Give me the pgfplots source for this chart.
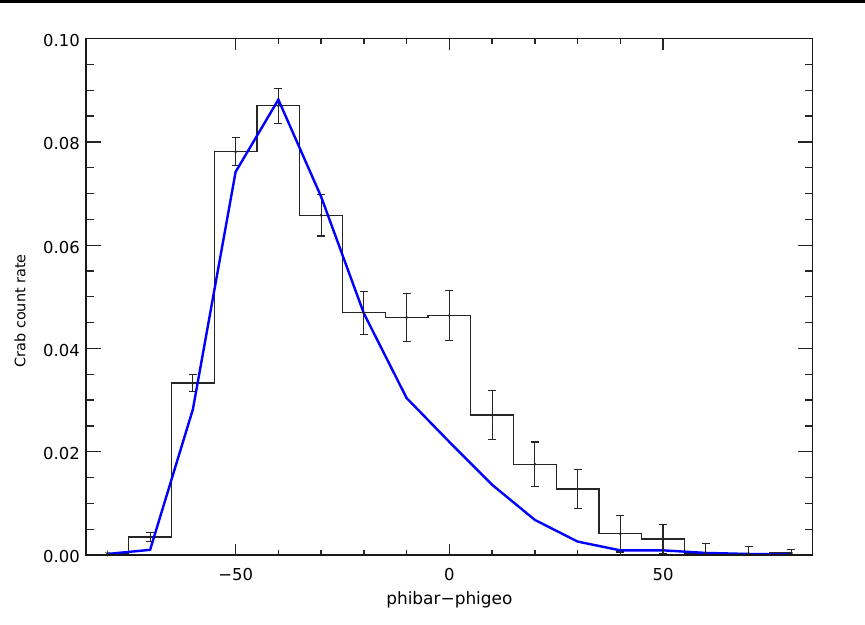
\documentclass[border=0pt]{standalone}
\usepackage{fontspec}
\setmainfont{DejaVu Sans}
\usepackage{pgfplots}
\pgfplotsset{compat=1.18}
\usepackage{pgfplotstable}

\pgfplotstableread{
x y e
-70 0.0035 0.0009
-60 0.0333 0.0017
-50 0.0781 0.0027
-40 0.0870 0.0034
-30 0.0658 0.0040
-20 0.0469 0.0042
-10 0.0460 0.0046
0 0.0464 0.0048
10 0.0271 0.0048
20 0.0176 0.0043
30 0.0128 0.0038
40 0.0041 0.0035
50 0.0031 0.0028
60 0.0004 0.0018
70 0.0003 0.0013
80 0.0004 0.0007
}\errdata

\pgfplotstableread{
x y
-80 0.0003
-70 0.0035
-60 0.0333
-50 0.0781
-40 0.0870
-30 0.0658
-20 0.0469
-10 0.0460
0 0.0464
10 0.0271
20 0.0176
30 0.0128
40 0.0041
50 0.0031
60 0.0004
70 0.0003
80 0.0004
}\histdata

\pgfplotstableread{
x y
-80 0.0002
-70 0.0010
-60 0.0282
-50 0.0742
-40 0.0882
-30 0.0694
-20 0.0468
-10 0.0304
0 0.0219
10 0.0136
20 0.0068
30 0.0026
40 0.0009
50 0.0009
60 0.0004
70 0.0002
80 0.0001
}\modeldata

\begin{document}
\begin{tikzpicture}
\pgfplotsset{
  common/.style={
    scale only axis, width=726.7bp, height=516.3bp,
    at={(0,0)}, anchor=south west,
    xmin=-85, xmax=85, ymin=0, ymax=0.1,
    axis line style={line width=1.4bp, black!90},
    tick align=inside,
    tick style={line width=1.3bp, black!85},
    /pgf/number format/assume math mode=true,
    ticklabel style={font=\fontsize{16.5}{18}\selectfont, inner sep=0pt},
  }
}
% main axis: y ticks and data
\begin{axis}[common,
  xtick=\empty,
  ytick={0,0.02,0.04,0.06,0.08,0.1},
  minor y tick num=3,
  major tick length=15bp, minor tick length=8bp,
  scaled y ticks=false,
  yticklabel style={/pgf/number format/fixed, /pgf/number format/fixed zerofill, /pgf/number format/precision=2},
  yticklabel style={anchor=east, xshift=-6bp, yshift=-2bp},
  ylabel={Crab count rate},
  ylabel style={font=\fontsize{14.5}{16}\selectfont, at={(axis description cs:-0.0908,0.473)}, anchor=center},
]
\addplot[const plot mark mid, black!85, line width=1.2bp] table[x=x, y=y] {\histdata};
\addplot[only marks, black!85, mark=*, mark size=1.2bp,
  error bars/.cd, y dir=both, y explicit,
  error mark=-,
  error bar style={line width=1.2bp, black!85},
  error mark options={rotate=90, line width=1.2bp, mark size=4bp, black!85}]
  table[x=x, y=y, y error=e] {\errdata};
\addplot[only marks, black, mark=asterisk, mark size=3bp] coordinates {(-80,0.0003)};
\addplot[blue, line width=2.4bp] table[x=x, y=y] {\modeldata};
\end{axis}
% second axis: x ticks and labels
\begin{axis}[common,
  ytick=\empty,
  xtick={-50,0,50},
  xticklabels={−50,0,50},
  minor x tick num=4,
  major tick length=11bp, minor tick length=5.5bp,
  xticklabel style={anchor=north, yshift=-13.5bp},
  xlabel={phibar−phigeo},
  xlabel style={font=\fontsize{17}{19}\selectfont, at={(axis description cs:0.5,-0.0872)}, anchor=center},
]
\end{axis}
\fill[black] (-86bp,552bp) rectangle (779bp,555bp);
\path[use as bounding box] (-86bp,-70bp) rectangle (779bp,555bp);
\end{tikzpicture}
\end{document}
